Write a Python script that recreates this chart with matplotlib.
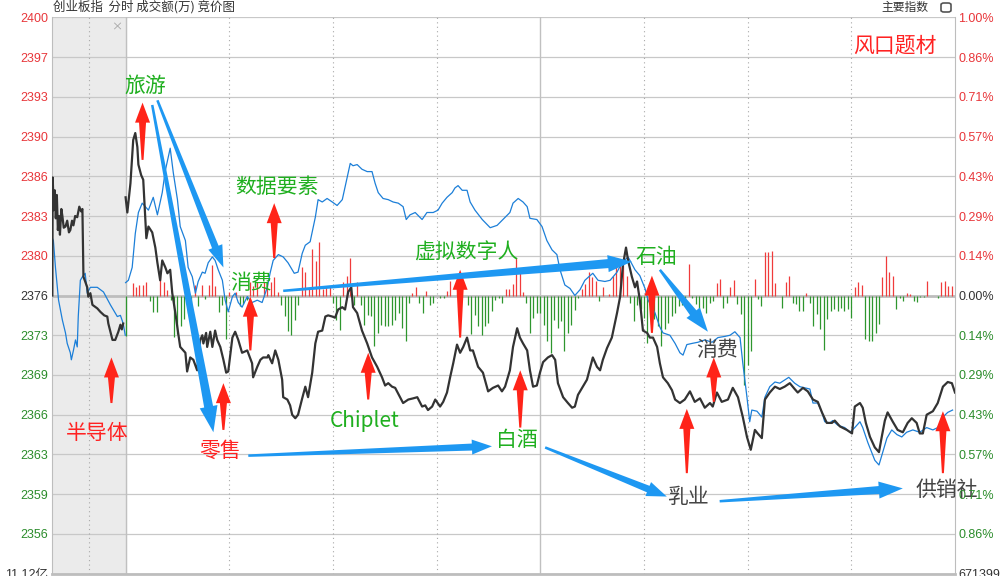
import numpy as np
import matplotlib.pyplot as plt
from matplotlib.patches import Polygon, FancyBboxPatch
from matplotlib.transforms import IdentityTransform

plt.rcParams['font.family'] = ['Noto Sans CJK SC', 'DejaVu Sans']

prev_close = 2376.2
span = 23.8          # 1 % of previous close
auction_len = 21.3   # width of the call-auction block, in minute units

# call auction (竞价), minutes before 9:30
auc_t = [-21.2, -21.1, -20.8, -20.5, -20.2, -19.9, -19.6, -19.3, -19.0, -18.6, -18.3,
         -17.9, -17.4, -16.9, -16.4, -16.0, -15.5, -15.1, -14.6, -14.0, -13.4, -12.9,
         -12.5, -12.2, -11.7, -11.1, -10.8, -10.2, -9.6, -8.2, -7.3, -6.2, -5.3, -5.0,
         -3.8, -3.0, -2.1, -1.5, -1.1, -0.7]
auc_index = [2376.2, 2386.3, 2383.5, 2385.2, 2382.8, 2384.8, 2381.8, 2383.0, 2381.4, 2383.6, 2383.0,
             2382.0, 2382.1, 2382.6, 2381.6, 2381.8, 2382.6, 2382.2, 2383.0, 2382.9, 2383.8, 2383.4,
             2383.6, 2377.8, 2377.4, 2376.9, 2376.1, 2376.4, 2375.4, 2375.1, 2374.8, 2374.5, 2374.4, 2373.8,
             2372.4, 2372.4, 2373.1, 2373.7, 2373.3, 2373.8]
auc_lead_t = [-21.2, -21.2, -20.9, -20.3, -19.4, -18.3, -17.4, -16.9, -16.0, -15.7, -15.1, -14.5,
              -14.0, -13.7, -13.1, -12.5, -11.7, -11.1, -10.2, -8.2, -6.4, -4.4, -2.4, -1.5, -0.7, -0.1]
auc_lead = [2376.2, 2381.1, 2380.9, 2378.6, 2375.8, 2374.1, 2373.0, 2372.1, 2371.3, 2370.7, 2371.5, 2372.4,
            2371.8, 2374.4, 2377.5, 2377.8, 2378.1, 2376.4, 2376.9, 2376.9, 2376.5, 2375.4, 2374.4, 2374.5,
            2373.8, 2372.8]

# intraday index (black)
t_index = [0, 0.5, 1.4, 2.2, 2.8, 3.4, 3.7, 4.5, 5.1, 5.4, 6.0, 6.6, 7.7, 8.6, 9.2, 10.0, 10.6, 11.5,
           12.1, 12.9, 13.5, 14.4, 15.2, 15.8, 17.3, 17.8, 18.7, 19.6, 20.7, 21.6, 22.2, 22.5, 23.3,
           23.6, 24.5, 25.1, 25.9, 26.5, 27.4, 28.3, 29.1, 29.7, 30.9, 31.7, 32.6, 33.7, 35.2, 36.6,
           36.9, 38.1, 39.0, 39.8, 41.0, 41.3, 42.4, 43.3, 44.2, 45.3, 45.6, 46.8, 47.6, 48.2, 49.1,
           49.9, 51.1, 52.0, 52.8, 54.0, 54.9, 55.7, 56.9, 57.8, 58.6, 59.8, 60.6, 61.5, 62.7, 63.5,
           64.4, 65.3, 65.8, 67.0, 68.4, 69.9, 71.3, 72.8, 74.2, 75.1, 76.0, 77.1, 78.0, 79.4, 80.3,
           81.8, 83.2, 84.4, 85.8, 86.7, 87.5, 88.7, 89.6, 91.0, 91.9, 93.0, 93.9, 94.8, 95.9, 96.8,
           97.7, 98.8, 99.7, 100.5, 102.0, 103.4, 104.9, 106.3, 107.8, 108.9, 109.8, 111.2, 112.1,
           113.3, 114.1, 115.0, 116.2, 117.0, 117.9, 119.0, 119.9, 120.8, 122.2, 123.4, 124.3, 125.1,
           126.6, 128.0, 129.2, 130.0, 130.9, 132.3, 133.5, 134.4, 135.2, 136.4, 137.3, 138.1, 139.3,
           140.7, 142.2, 143.1, 143.9, 144.8, 145.4, 146.5, 147.4, 148.0, 148.8, 149.7, 150.9, 151.7,
           152.6, 153.8, 154.6, 155.5, 156.9, 158.1, 159.0, 160.4, 161.8, 163.3, 164.7, 166.2, 167.6,
           169.1, 169.9, 171.1, 172.5, 174.3, 175.7, 177.2, 178.6, 179.8, 180.9, 182.1, 182.9, 184.1,
           185.0, 186.4, 187.9, 189.3, 190.7, 192.2, 193.6, 194.5, 196.0, 197.4, 198.9, 200.3, 201.5,
           202.9, 204.4, 205.2, 206.7, 208.7, 210.2, 211.0, 212.5, 213.3, 214.2, 215.4, 216.8, 218.0,
           218.8, 219.7, 220.5, 222.0, 223.4, 224.9, 226.3, 227.5, 228.9, 229.8, 230.7, 231.8, 233.6,
           235.0, 236.5, 237.9, 239.1, 240.0]
index_vals = [2384.6, 2383.3, 2385.8, 2389.5, 2390.1, 2388.9, 2387.4, 2386.5, 2386.1, 2384.4, 2381.1,
              2382.1, 2381.6, 2380.3, 2379.0, 2377.5, 2379.2, 2378.6, 2378.1, 2378.4, 2376.4, 2374.7,
              2373.0, 2371.8, 2371.3, 2369.7, 2370.9, 2370.7, 2369.8, 2372.4, 2372.8, 2372.1, 2373.0,
              2371.8, 2373.1, 2371.8, 2373.2, 2372.4, 2371.8, 2370.7, 2369.6, 2369.7, 2372.6, 2373.1,
              2372.4, 2371.3, 2371.5, 2370.4, 2369.2, 2370.1, 2370.7, 2370.9, 2370.9, 2371.1, 2370.4,
              2371.5, 2370.7, 2369.0, 2367.5, 2367.3, 2366.8, 2366.0, 2365.7, 2366.0, 2367.4, 2368.4,
              2367.5, 2369.6, 2372.1, 2373.1, 2373.2, 2374.4, 2374.5, 2374.4, 2374.3, 2375.0, 2375.2,
              2375.0, 2376.5, 2376.9, 2375.2, 2374.7, 2373.2, 2372.1, 2370.9, 2370.1, 2369.2, 2368.5,
              2368.7, 2368.4, 2368.3, 2367.5, 2367.0, 2367.3, 2367.4, 2367.5, 2366.7, 2366.8, 2366.4,
              2366.7, 2367.3, 2366.7, 2367.1, 2367.9, 2369.2, 2370.4, 2372.0, 2371.3, 2371.8, 2372.6,
              2371.5, 2371.5, 2370.1, 2369.6, 2368.0, 2368.3, 2368.5, 2368.0, 2368.4, 2369.8, 2371.8,
              2373.4, 2372.6, 2372.1, 2371.5, 2369.8, 2368.4, 2368.5, 2369.6, 2370.5, 2370.9, 2371.1,
              2370.7, 2368.7, 2367.5, 2367.0, 2366.6, 2366.7, 2367.7, 2368.4, 2369.0, 2370.0, 2370.9,
              2370.1, 2369.8, 2370.7, 2371.7, 2372.6, 2374.7, 2376.1, 2378.8, 2380.3, 2379.2, 2377.8,
              2376.9, 2377.4, 2375.8, 2373.2, 2373.0, 2372.6, 2372.6, 2371.8, 2370.4, 2369.2, 2368.7,
              2368.1, 2367.3, 2367.0, 2367.3, 2368.0, 2367.1, 2367.4, 2366.6, 2367.0, 2366.7, 2367.9,
              2367.1, 2367.3, 2368.3, 2367.5, 2365.8, 2364.1, 2363.0, 2364.7, 2364.4, 2364.0, 2367.3,
              2367.9, 2368.4, 2368.2, 2368.4, 2368.7, 2368.2, 2367.9, 2368.3, 2368.0, 2367.3, 2367.1,
              2366.2, 2365.3, 2365.3, 2365.5, 2365.0, 2364.7, 2364.4, 2366.7, 2367.0, 2366.6, 2365.3,
              2364.1, 2363.2, 2362.8, 2364.1, 2365.5, 2366.2, 2365.4, 2364.7, 2364.5, 2365.3, 2365.7,
              2365.3, 2364.4, 2364.4, 2366.0, 2366.3, 2367.0, 2368.4, 2368.8, 2368.7, 2367.9]

# leading index (blue)
t_lead = [0, 0.8, 1.9, 2.8, 3.7, 4.8, 5.7, 6.6, 8.0, 9.2, 10.6, 11.5, 12.9, 13.8, 15.0, 15.8, 17.3,
          18.1, 19.3, 20.2, 21.0, 22.2, 23.0, 23.9, 25.1, 25.9, 26.8, 28.0, 28.8, 29.7, 30.9, 31.7,
          32.6, 33.7, 35.2, 36.6, 38.1, 39.5, 41.0, 41.8, 42.7, 44.2, 45.6, 47.0, 48.8, 49.9, 51.1,
          52.0, 53.4, 54.9, 55.7, 56.9, 58.3, 59.8, 61.2, 62.7, 64.1, 65.0, 65.8, 67.0, 68.4, 69.9,
          71.3, 72.2, 73.1, 74.5, 76.0, 77.4, 78.9, 80.3, 81.2, 82.3, 83.8, 85.8, 87.2, 89.0, 90.4,
          91.6, 93.0, 94.5, 95.3, 96.2, 97.4, 98.8, 99.7, 101.1, 103.2, 105.5, 107.5, 109.2, 111.2,
          112.1, 113.6, 115.0, 116.2, 117.0, 119.0, 120.5, 121.9, 123.4, 124.8, 125.7, 127.1, 128.6,
          130.0, 131.5, 132.9, 134.4, 135.2, 136.7, 138.7, 140.2, 142.2, 143.6, 145.4, 147.4, 148.8,
          150.3, 151.2, 153.2, 154.6, 155.5, 157.5, 159.0, 160.4, 161.3, 162.4, 163.9, 165.6, 167.6,
          169.7, 171.4, 173.4, 174.9, 176.3, 177.8, 178.6, 179.8, 180.6, 181.2, 182.7, 184.1, 185.0,
          186.4, 187.9, 189.3, 191.9, 193.6, 195.1, 196.6, 198.0, 198.9, 200.3, 201.5, 202.3, 203.8,
          204.6, 206.1, 208.1, 209.6, 211.0, 212.5, 213.3, 214.8, 216.8, 218.0, 219.1, 220.3, 221.7,
          223.2, 224.6, 226.0, 227.8, 229.8, 231.8, 233.6, 235.0, 236.5, 237.9, 239.3]
lead_vals = [2377.3, 2377.5, 2378.6, 2381.5, 2383.3, 2384.1, 2383.8, 2383.5, 2384.6, 2383.1, 2385.0,
             2386.9, 2388.8, 2386.7, 2384.4, 2382.1, 2380.9, 2378.6, 2377.8, 2376.4, 2377.4, 2378.2,
             2378.1, 2379.0, 2379.5, 2379.2, 2378.4, 2377.5, 2375.8, 2374.8, 2376.1, 2376.4, 2375.6,
             2375.2, 2376.1, 2375.6, 2375.8, 2375.6, 2376.9, 2378.1, 2379.2, 2379.7, 2379.5, 2379.0,
             2378.1, 2378.2, 2379.8, 2380.5, 2380.8, 2382.9, 2384.4, 2384.2, 2384.5, 2384.2, 2383.9,
             2384.4, 2386.3, 2387.5, 2387.3, 2387.4, 2387.0, 2386.8, 2386.8, 2385.8, 2385.0, 2384.5,
             2384.4, 2384.2, 2384.1, 2383.8, 2382.7, 2383.1, 2383.3, 2382.7, 2383.3, 2383.3, 2383.5,
             2384.1, 2384.6, 2385.0, 2385.4, 2385.6, 2385.2, 2385.2, 2384.2, 2383.5, 2382.7, 2382.0,
             2382.2, 2382.7, 2383.3, 2384.1, 2384.5, 2384.2, 2383.8, 2382.8, 2382.7, 2382.1, 2380.9,
             2380.1, 2379.7, 2378.4, 2377.1, 2376.8, 2376.2, 2376.7, 2377.5, 2377.9, 2378.1, 2377.5,
             2377.4, 2377.5, 2378.2, 2379.0, 2379.5, 2378.4, 2377.9, 2376.8, 2375.8, 2374.7, 2373.5,
             2373.0, 2372.8, 2372.1, 2371.3, 2371.1, 2372.0, 2372.1, 2372.2, 2372.4, 2372.2, 2372.6,
             2372.7, 2372.8, 2373.1, 2372.6, 2370.4, 2367.5, 2365.4, 2366.4, 2366.3, 2365.8, 2367.5,
             2368.4, 2368.8, 2368.7, 2369.2, 2368.7, 2368.4, 2368.3, 2368.2, 2367.0, 2367.0, 2366.2,
             2365.4, 2365.3, 2365.5, 2365.1, 2364.9, 2364.5, 2364.9, 2365.4, 2364.9, 2363.6, 2362.1,
             2361.7, 2362.8, 2364.0, 2364.7, 2364.3, 2364.1, 2364.5, 2364.7, 2364.5, 2364.9, 2364.7,
             2364.9, 2365.8, 2366.2, 2366.4]

# per-minute buy/sell difference bars (red up, green down), arbitrary units
bar_vals = [-41, 0, 13, 9, 11, 11, 14, -6, -17, -17, 20, 14, 6, -5, -42, -39, -31, -24, -18, -10,
            11, -11, 11, -4, 11, 31, 10, -17, -10, -44, 4, 0, 4, -11, -9, -5, 14, 10, 14, 0,
            14, 14, 14, 19, 4, -10, -21, -36, -40, -25, -10, 29, 24, 7, 47, 35, 54, 7, 9, 9,
            -8, -25, -35, 14, 20, 38, -10, 14, -10, -30, -20, -21, -51, -38, -30, -31, -31, -30, -25, -18,
            -33, -46, -8, 3, 9, -8, -18, 5, -10, -8, 0, -3, -3, 5, 15, 0, 3, 12, 0, -10,
            -39, -20, -31, -40, -31, -28, -16, -5, -3, -8, 7, 7, 12, 38, 28, 4, -8, -38, -23, -18,
            -18, -30, -46, -58, -25, -33, -26, -56, -38, -30, -15, -3, 7, 12, 24, 19, 15, -6, 9, 0,
            2, 20, 29, 37, 32, 20, -8, -26, -10, -14, -23, -48, -29, -24, -31, -51, -34, -28, -21, -18,
            -11, -10, -9, 32, -3, -9, -14, -13, -18, -8, -6, 13, 17, -13, -8, 9, 16, -9, -19, -90,
            -70, -56, 17, -4, -11, 44, 44, 45, 13, 0, -13, 14, 20, -8, -9, -16, -16, 3, -8, -31,
            -19, -34, -55, -24, -16, -14, -16, -13, -16, -14, -23, 9, 14, 11, -44, -46, -46, -38, -29, 19,
            40, 24, 20, -14, -3, -6, 3, 2, -6, -7, -2, -2, 15, 0, 0, -3, 14, 15, 10, 10, 0]
bar_unit = 0.0855

left_labels = ['2400', '2397', '2393', '2390', '2386', '2383', '2380', '2376',
               '2373', '2369', '2366', '2363', '2359', '2356', '11.12亿']
right_labels = ['1.00%', '0.86%', '0.71%', '0.57%', '0.43%', '0.29%', '0.14%', '0.00%',
                '0.14%', '0.29%', '0.43%', '0.57%', '0.71%', '0.86%', '671399']

# annotations: (text, minute, price, colour)
labels = [('旅游', 5.7, 2394.1, 'g'), ('数据要素', 43.9, 2385.5, 'g'), ('消费', 36.3, 2377.3, 'g'),
          ('虚拟数字人', 98.6, 2379.9, 'g'), ('石油', 153.5, 2379.5, 'g'), ('Chiplet', 69.3, 2365.5, 'g'),
          ('白酒', 113.3, 2363.8, 'g'), ('半导体', -8.2, 2364.4, 'r'), ('零售', 27.4, 2362.9, 'r'),
          ('风口题材', 222.6, 2397.6, 'r'), ('消费', 171.1, 2371.5, 'k'), ('乳业', 162.7, 2359.0, 'k'),
          ('供销社', 237.6, 2359.6, 'k')]
# red up arrows: (minute, tip price, tail price)
red_arrows = [(4.9, 2392.7, 2387.8), (-4.1, 2370.9, 2367.0), (28.3, 2368.7, 2364.7),
              (36.1, 2376.1, 2371.5), (43.0, 2384.1, 2379.4), (70.2, 2371.3, 2367.3),
              (96.8, 2378.4, 2372.6), (114.2, 2369.8, 2364.9), (152.3, 2377.9, 2373.0),
              (170.2, 2370.9, 2367.1), (162.4, 2366.5, 2361.0), (236.5, 2366.3, 2361.0)]
# blue arrows: (tail minute, tail price, tip minute, tip price, neck width, head width, head length)
blue_arrows = [(9.2, 2392.9, 28.3, 2378.6, 7, 15, 22), (7.7, 2392.5, 25.4, 2364.5, 9, 18, 26),
               (45.6, 2376.6, 146.5, 2379.1, 9, 17, 24), (35.5, 2362.5, 106.0, 2363.3, 7, 15, 20),
               (121.4, 2363.2, 156.6, 2359.0, 7, 15, 20), (154.6, 2378.4, 168.5, 2373.1, 8, 17, 24),
               (171.9, 2358.6, 224.9, 2359.7, 8, 17, 24)]

RED = '#E8363A'
GREEN = '#2B8C2B'
text_colors = {'g': '#1FAF1F', 'r': '#FF2222', 'k': '#454545'}

fig = plt.figure(figsize=(10.05, 5.76), dpi=100)
ax = fig.add_axes([52 / 1005, 2.3 / 576, 903 / 1005, 556.4 / 576])
ax.set_xlim(-auction_len, 240)
ax.set_ylim(prev_close - span, prev_close + span)
ax.set_autoscale_on(False)

ax.axvspan(-auction_len, 0, color='#EBEBEB', zorder=0)

yt = prev_close + span * np.arange(7, -8, -1) / 7
for i, y in enumerate(yt):
    if i == 7:
        ax.axhline(y, color='#BDBDBD', lw=2.0, zorder=1)
    else:
        ax.axhline(y, color='#C8C8C8', lw=0.9, zorder=1)
for m in [-auction_len / 2, 30, 60, 90, 150, 180, 210]:
    ax.axvline(m, color='#A8A8A8', lw=0.8, ls=(0, (1, 3)), zorder=1)
for m in [0, 120]:
    ax.axvline(m, color='#C0C0C0', lw=1.0, zorder=1)

for s in ['left', 'right', 'bottom']:
    ax.spines[s].set_color('#BDBDBD')
ax.spines['bottom'].set_linewidth(2)
ax.spines['top'].set_visible(False)

bars = np.array(bar_vals) * bar_unit
tb = np.arange(len(bar_vals))
ax.vlines(tb, prev_close, prev_close + bars, colors=np.where(bars > 0, '#F03B3B', '#2E962E'),
          lw=0.9, zorder=2)

ax.plot(auc_lead_t, auc_lead, color='#1C7FD8', lw=0.9, zorder=3)
ax.plot(t_lead, lead_vals, color='#1C7FD8', lw=0.9, zorder=3)
ax.plot(auc_t, auc_index, color='#333333', lw=1.6, zorder=4)
ax.plot(t_index, index_vals, color='#333333', lw=1.6, zorder=4)

# tick labels
ax.set_xticks([])
ax.set_yticks(yt)
ax.set_yticklabels(left_labels, family=['Liberation Sans', 'Noto Sans CJK SC'])
ax.tick_params(axis='y', length=0, pad=3, labelsize=9)
ax2 = ax.twinx()
ax2.set_ylim(ax.get_ylim())
ax2.set_yticks(yt)
ax2.set_yticklabels(right_labels, family=['Liberation Sans', 'Noto Sans CJK SC'])
ax2.tick_params(axis='y', length=0, pad=2.5, labelsize=9)
for a in (ax2,):
    for s in a.spines.values():
        s.set_visible(False)
for tl_list in (ax.get_yticklabels(), ax2.get_yticklabels()):
    for i, tl in enumerate(tl_list):
        if i < 7:
            tl.set_color(RED)
        elif i == 7 or i == 14:
            tl.set_color('#333333')
        else:
            tl.set_color(GREEN)

fig.canvas.draw()


def arrow(x0, y0, x1, y1, color, tail_w, neck_w, head_w, head_len):
    p0 = ax.transData.transform((x0, y0))
    p1 = ax.transData.transform((x1, y1))
    d = p1 - p0
    u = d / np.hypot(*d)
    n = np.array([-u[1], u[0]])
    base = p1 - u * head_len
    pts = [p0 + n * tail_w / 2, base + n * neck_w / 2, base + n * head_w / 2, p1,
           base - n * head_w / 2, base - n * neck_w / 2, p0 - n * tail_w / 2]
    ax.add_patch(Polygon(pts, closed=True, transform=IdentityTransform(), facecolor=color,
                         edgecolor='none', zorder=6, clip_on=False))


for m, tip, tail in red_arrows:
    arrow(m, tail, m, tip, '#FF2419', 2, 7, 15, 20)
for x0, y0, x1, y1, nw, hw, hl in blue_arrows:
    arrow(x0, y0, x1, y1, '#1E98F2', 2.5, nw, hw, hl)

for txt, m, p, c in labels:
    ax.text(m, p, txt, color=text_colors[c], fontsize=15, ha='center', va='center',
            zorder=7, clip_on=False)

ax.text(-2.7, 2399.2, '×', color='#A0A0A0', fontsize=8, ha='center', va='center', zorder=5)

fig.text(53 / 1005, 1 - 7 / 576, '创业板指  分时 成交额(万) 竞价图', fontsize=9, color='#333333',
         va='center', ha='left')
fig.text(928 / 1005, 1 - 7 / 576, '主要指数', fontsize=8.5, color='#333333', va='center', ha='right')
fig.patches.append(FancyBboxPatch((941 / 1005, 1 - 12 / 576), 10 / 1005, 9 / 576,
                                  boxstyle='round,pad=0,rounding_size=0.003', transform=fig.transFigure,
                                  facecolor='white', edgecolor='#555555', lw=1.2, figure=fig))

fig.savefig('out.png', dpi=100, facecolor='white')
